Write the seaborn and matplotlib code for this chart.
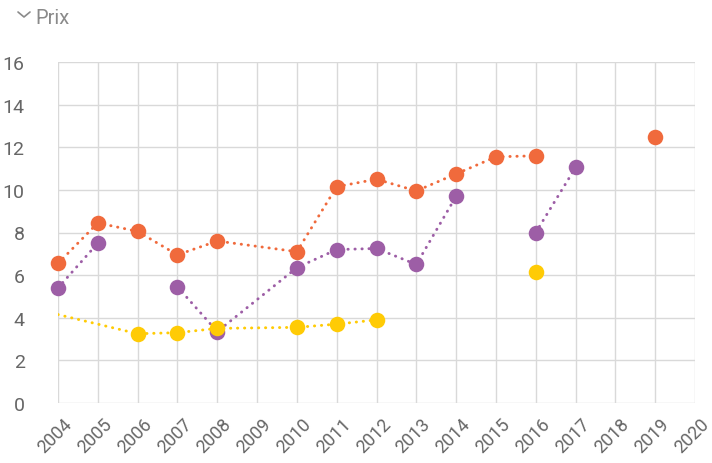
import numpy as np
import pandas as pd
import seaborn as sns
import matplotlib.pyplot as plt
import matplotlib.transforms as mtransforms
from matplotlib.lines import Line2D

nan = np.nan

# Values (NaN = break in the line)
orange_years = [2004, 2005, 2006, 2007, 2008, 2010, 2011, 2012, 2013, 2014, 2015, 2016, 2017, 2019]
orange_vals = [6.55, 8.45, 8.05, 6.95, 7.6, 7.1, 10.15, 10.5, 9.95, 10.75, 11.55, 11.6, nan, 12.5]

purple_years = [2004, 2005, 2006, 2007, 2008, 2010, 2011, 2012, 2013, 2014, 2015, 2016, 2017]
purple_vals = [5.4, 7.5, nan, 5.45, 3.35, 6.35, 7.2, 7.25, 6.5, 9.7, nan, 8.0, 11.05]

yellow_years = [2004, 2006, 2007, 2008, 2010, 2011, 2012, 2013, 2016]
yellow_vals = [4.15, 3.25, 3.3, 3.5, 3.55, 3.7, 3.9, nan, 6.15]
yellow_dot = [False, True, True, True, True, True, True, False, True]

year_ticks = list(range(2004, 2021))
y_ticks = list(range(0, 17, 2))

series = [
    ("orange", orange_years, orange_vals, [True] * len(orange_vals), "#f06a3c"),
    ("purple", purple_years, purple_vals, [True] * len(purple_vals), "#9d5ea6"),
    ("yellow", yellow_years, yellow_vals, yellow_dot, "#ffcb05"),
]

sns.set_theme(style="white")
plt.rcParams["font.family"] = ["Roboto", "DejaVu Sans"]

fig = plt.figure(figsize=(7.12, 4.64), dpi=100)
ax = fig.add_axes([58 / 712, 60 / 464, (695 - 58) / 712, (404 - 63) / 464])

for i, (name, yrs, vals, dots, col) in enumerate(series):
    df = pd.DataFrame({"year": yrs, "value": vals, "dot": dots})
    df["seg"] = df["value"].isna().cumsum()
    lines = df.dropna()
    sns.lineplot(data=lines, x="year", y="value", units="seg", estimator=None,
                 sort=False, color=col, linewidth=2.1, linestyle=(0, (0.1, 2.3)),
                 dash_capstyle="round", ax=ax, zorder=2 + i, legend=False)
    pts = lines[lines["dot"]]
    sns.scatterplot(data=pts, x="year", y="value", color=col, s=125, linewidth=0,
                    ax=ax, zorder=5 + i, clip_on=False, legend=False)

ax.set_xlim(2004, 2020)
ax.set_ylim(0, 16)
ax.set_xticks(year_ticks)
ax.set_xticklabels([str(y) for y in year_ticks], rotation=45, ha="center")
ax.set_yticks(y_ticks)
ax.set_xlabel("")
ax.set_ylabel("")
ax.grid(True, color="#d9d9d9", linewidth=1)
ax.set_axisbelow(True)
for s in ax.spines.values():
    s.set_visible(False)
ax.tick_params(axis="both", length=0, labelsize=14, labelcolor="#666666")
ax.tick_params(axis="x", pad=8, labelsize=13)
ax.tick_params(axis="y", pad=24)

# nudge rotated year labels a few pixels left
shift = mtransforms.ScaledTranslation(-3 / 100, 0, fig.dpi_scale_trans)
for lab in ax.get_xticklabels():
    lab.set_transform(lab.get_transform() + shift)

# header with small chevron
fig.text(35 / 712, 1 - 18 / 464, "Prix", fontsize=14.5, color="#8a8a8a", va="center", ha="left")
fig.add_artist(Line2D([18 / 712, 24 / 712, 30 / 712],
                      [1 - 13 / 464, 1 - 18 / 464, 1 - 13 / 464],
                      transform=fig.transFigure, color="#8a8a8a", linewidth=1.2))

fig.savefig("out.png", dpi=100)
